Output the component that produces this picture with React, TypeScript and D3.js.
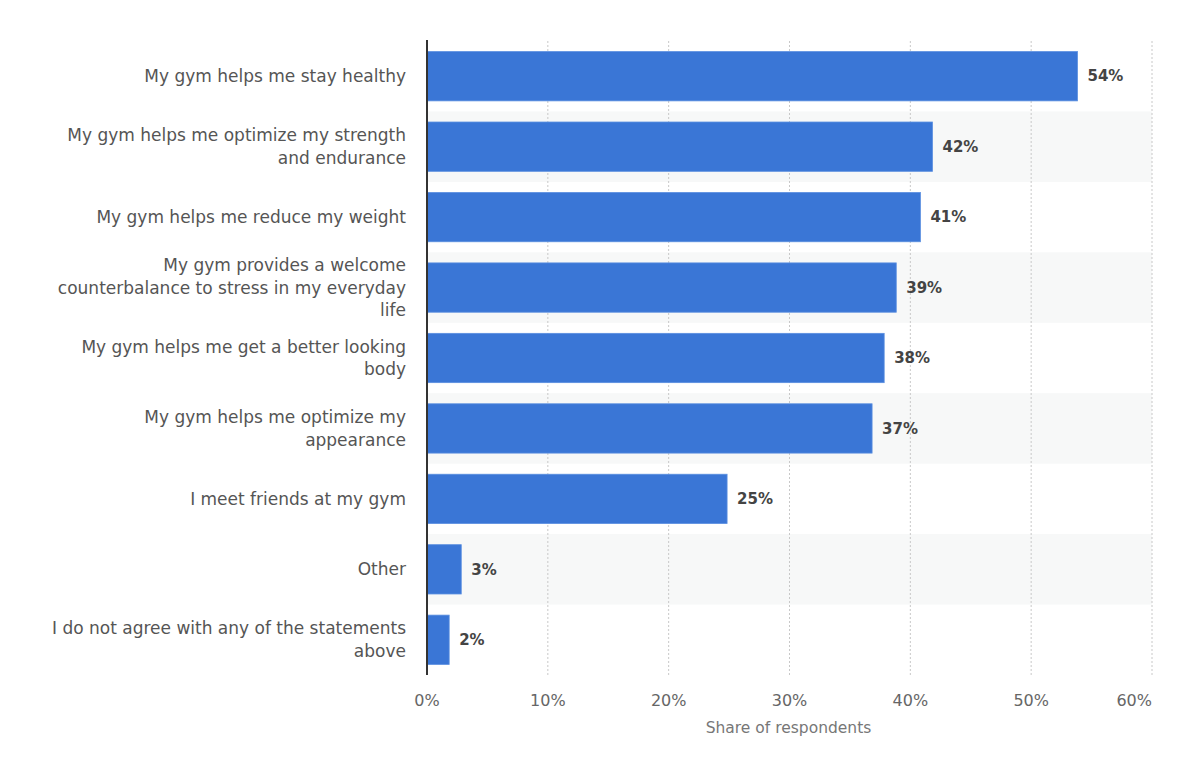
import React from "react";
import * as d3 from "d3";

const categories: string[] = [
  "My gym helps me stay healthy",
  "My gym helps me optimize my strength\nand endurance",
  "My gym helps me reduce my weight",
  "My gym provides a welcome\ncounterbalance to stress in my everyday\nlife",
  "My gym helps me get a better looking\nbody",
  "My gym helps me optimize my\nappearance",
  "I meet friends at my gym",
  "Other",
  "I do not agree with any of the statements\nabove",
];
const values: number[] = [54, 42, 41, 39, 38, 37, 25, 3, 2];
const xTicks: number[] = [0, 10, 20, 30, 40, 50, 60];
const axisTitle = "Share of respondents";

const W = 1200;
const H = 768;
const M = { left: 427, right: 1152, top: 41, bottom: 675 };
const FONT = "'DejaVu Sans', Verdana, sans-serif";

export default function App() {
  const x = d3.scaleLinear().domain([0, 60]).range([M.left, M.right]);
  const y = d3
    .scaleBand<number>()
    .domain(d3.range(categories.length))
    .range([M.top, M.bottom])
    .paddingInner(0.3)
    .paddingOuter(0.15);
  const step = y.step();

  return (
    <svg
      width={W}
      height={H}
      style={{ position: "absolute", left: 0, top: 0, background: "#fff" }}
      fontFamily={FONT}
    >
      {categories.map((_, i) =>
        i % 2 === 1 ? (
          <rect
            key={"s" + i}
            x={M.left}
            y={M.top + i * step}
            width={M.right - M.left}
            height={step}
            fill="#f7f8f8"
          />
        ) : null
      )}
      {xTicks.slice(1).map((t) => (
        <line
          key={"g" + t}
          x1={x(t)}
          x2={x(t)}
          y1={M.top}
          y2={M.bottom}
          stroke="#c8c8c8"
          strokeWidth={1}
          strokeDasharray="2,2"
        />
      ))}
      {values.map((v, i) => (
        <rect
          key={"b" + i}
          x={x(0)}
          y={y(i)!}
          width={x(v) - x(0) - 2}
          height={y.bandwidth()}
          fill="#3a76d6"
          stroke="#5b8fe0"
          strokeWidth={0.8}
        />
      ))}
      {values.map((v, i) => (
        <text
          key={"v" + i}
          x={x(v) + 8}
          y={y(i)! + y.bandwidth() / 2}
          dy="0.35em"
          fontSize={15}
          fontWeight="bold"
          fill="#444"
        >
          {v + "%"}
        </text>
      ))}
      <line x1={M.left} x2={M.left} y1={M.top - 1} y2={M.bottom} stroke="#333" strokeWidth={2} />
      {categories.map((c, i) => {
        const lines = c.split("\n");
        const cy = M.top + i * step + step / 2;
        const lh = 22.5;
        const start = cy - ((lines.length - 1) * lh) / 2;
        return (
          <text key={"c" + i} textAnchor="end" fontSize={17} fill="#555">
            {lines.map((l, j) => (
              <tspan key={j} x={406} y={start + j * lh} dy="0.35em">
                {l}
              </tspan>
            ))}
          </text>
        );
      })}
      {xTicks.map((t, i) => (
        <text
          key={"t" + t}
          x={i === xTicks.length - 1 ? x(t) : x(t)}
          y={700}
          dy="0.35em"
          textAnchor={i === xTicks.length - 1 ? "end" : "middle"}
          fontSize={16}
          fill="#666"
        >
          {t + "%"}
        </text>
      ))}
      <text
        x={(M.left + M.right) / 2 - 1}
        y={728}
        dy="0.35em"
        textAnchor="middle"
        fontSize={15.5}
        fill="#777"
      >
        {axisTitle}
      </text>
    </svg>
  );
}
